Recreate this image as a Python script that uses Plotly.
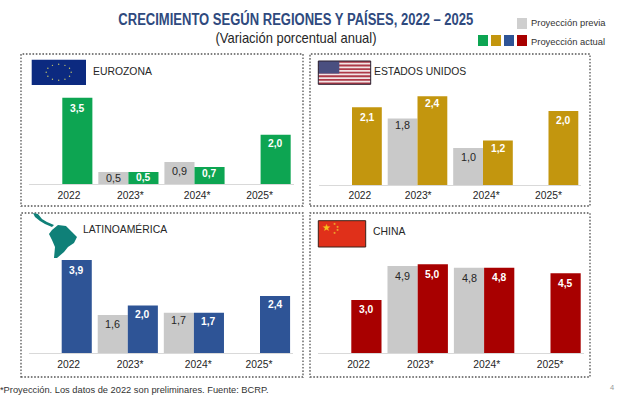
import math
import plotly.graph_objects as go

# ---- data ----
categories = ["2022", "2023*", "2024*", "2025*"]
eurozona_previa = [None, 0.5, 0.9, None]
eurozona_actual = [3.5, 0.5, 0.7, 2.0]
eeuu_previa = [None, 1.8, 1.0, None]
eeuu_actual = [2.1, 2.4, 1.2, 2.0]
latam_previa = [None, 1.6, 1.7, None]
latam_actual = [3.9, 2.0, 1.7, 2.4]
china_previa = [None, 4.9, 4.8, None]
china_actual = [3.0, 5.0, 4.8, 4.5]
main_title = "CRECIMIENTO SEGÚN REGIONES Y PAÍSES, 2022 – 2025"
sub_title = "(Variación porcentual anual)"

W, H = 620, 396
GRAY = "#C9C9C9"
SANS = "Liberation Sans"
px = lambda x: x / W
py = lambda y: 1 - y / H

panels = [
    dict(name="EUROZONA", prev=eurozona_previa, act=eurozona_actual, color="#0DA552",
         first=62.3, step=66.1, base=184.3, scale=24.75, box=(21, 54, 303, 206),
         label=(93, 71), tick_off=[0.10, 0.03, 0.04, -0.015],
         drop_prev=[0, 6, 9, 0], drop_act=[10.5, 6, 7, 9]),
    dict(name="ESTADOS UNIDOS", prev=eeuu_previa, act=eeuu_actual, color="#C3960E",
         first=352, step=65.5, base=185, scale=37, box=(310, 54, 590, 206),
         label=(373.7, 71.5), tick_off=[0.12, 0.01, 0.05, 0],
         drop_prev=[0, 7, 9, 0], drop_act=[10, 7, 8, 9]),
    dict(name="LATINOAMÉRICA", prev=latam_previa, act=latam_actual, color="#2E5496",
         first=61.7, step=66.1, base=353.3, scale=23.9, box=(21, 213, 303, 377),
         label=(83.3, 229), tick_off=[0.105, 0.035, 0.065, -0.015],
         drop_prev=[0, 9, 7, 0], drop_act=[10.5, 8.5, 8.5, 9]),
    dict(name="CHINA", prev=china_previa, act=china_actual, color="#A80000",
         first=351.3, step=66.4, base=353.3, scale=17.8, box=(310, 213, 590, 377),
         label=(373, 231), tick_off=[0.11, 0.04, 0.04, -0.005],
         drop_prev=[0, 10, 10, 0], drop_act=[10, 10.5, 10, 10]),
]

fig = go.Figure()
layout = dict(
    width=W, height=H, margin=dict(l=0, r=0, t=0, b=0, pad=0), autosize=False,
    paper_bgcolor="white", plot_bgcolor="rgba(0,0,0,0)", showlegend=False,
    barmode="group", bargap=0.09, bargroupgap=0,
    font=dict(family=SANS, color="#262626"),
)
shapes, annotations = [], []


def rect(x0, y0, x1, y1, fill, line=None, lw=0, dash=None):
    shapes.append(dict(type="rect", xref="paper", yref="paper",
                       x0=px(x0), x1=px(x1), y0=py(y1), y1=py(y0),
                       fillcolor=fill, layer="above",
                       line=dict(color=line or fill, width=lw, dash=dash or "solid")))


def text(x, y, s, size, color="#262626", anchor="left", weight="normal", family=SANS, width=None):
    annotations.append(dict(xref="paper", yref="paper", x=px(x), y=py(y), text=s,
                            showarrow=False, xanchor=anchor, yanchor="middle", width=width,
                            font=dict(size=size, color=color, family=family, weight=weight),
                            borderpad=0, borderwidth=0))


for i, p in enumerate(panels):
    suffix = "" if i == 0 else str(i + 1)
    xa, ya = "x" + suffix, "y" + suffix
    for vals, col, group in ((p["prev"], GRAY, "a"), (p["act"], p["color"], "b")):
        fig.add_trace(go.Bar(x=list(range(4)), y=vals, marker=dict(color=col, line=dict(width=0)),
                             offsetgroup=group, xaxis=xa, yaxis=ya,
                             hovertemplate="%{y:.1f}<extra></extra>"))
    x0 = p["first"] - p["step"] / 2
    x1 = x0 + 4 * p["step"]
    top = p["box"][1]
    layout["xaxis" + suffix] = dict(
        domain=[px(x0), px(x1)], range=[-0.5, 3.5], anchor=ya, showgrid=False, zeroline=False,
        showline=True, linecolor="#D9D9D9", linewidth=1, ticks="", ticklabelstandoff=1,
        tickmode="array", tickvals=[k + o for k, o in enumerate(p["tick_off"])], ticktext=categories,
        tickfont=dict(size=10.3, color="#262626", family=SANS),
    )
    layout["yaxis" + suffix] = dict(
        domain=[py(p["base"]), py(top)], range=[0, (p["base"] - top) / p["scale"]], anchor=xa,
        visible=False, fixedrange=True,
    )
    rect(*p["box"], "rgba(0,0,0,0)", line="#555555", lw=1.3, dash="1.6px,1.7px")
    text(p["label"][0], p["label"][1], p["name"], 10.4)
    for k in range(4):
        for vals, shift, drop, col in ((p["prev"], -15, p["drop_prev"], "#262626"),
                                       (p["act"], 15, p["drop_act"], "white")):
            if vals[k] is None:
                continue
            annotations.append(dict(
                xref=xa, yref=ya, x=k, y=vals[k], xshift=shift, yshift=-drop[k],
                text=f"{vals[k]:.1f}".replace(".", ","),
                showarrow=False, xanchor="center", yanchor="middle",
                font=dict(size=10.3 if col == "white" else 10.8, color=col, family=SANS,
                          weight="bold" if col == "white" else "normal")))

# ---- titles, legend, footer ----
text(295.5, 18.5, main_title, 15.6, "#2F4A7E", "center", "bold", width=356)
text(295.5, 38, sub_title, 14.2, "#262626", "center", width=162)
rect(517, 18, 527, 29, "#CFCFCF")
for x, c in zip((478, 491, 504, 517), ("#0DA552", "#C3960E", "#2E5496", "#A80000")):
    rect(x, 35, x + 10, 46, c)
text(531, 23, "Proyección previa", 9.4, "#333333")
text(531, 41, "Proyección actual", 9.4, "#333333")
text(0, 390, "*Proyección. Los datos de 2022 son preliminares. Fuente: BCRP.", 9.3, "#333333")
text(612, 387, "4", 7.5, "#999999", "center")

# ---- flags and map (decoration) ----
rect(31.7, 59.7, 86, 85, "#0C2A80")
for a in range(0, 360, 30):
    cx = 58.7 + 12.5 * math.cos(math.radians(a))
    cy = 72.3 + 8 * math.sin(math.radians(a))
    shapes.append(dict(type="circle", xref="paper", yref="paper", x0=px(cx - .7), x1=px(cx + .7),
                       y0=py(cy + .7), y1=py(cy - .7), fillcolor="#C8C86A", line=dict(width=0), layer="above"))

fx0, fy0, fx1, fy1 = 318.3, 61, 370.7, 84.3
h = (fy1 - fy0) / 13
rect(fx0, fy0, fx1, fy1, "#F2E6E6")
for s in range(0, 13, 2):
    rect(fx0, fy0 + s * h, fx1, fy0 + (s + 1) * h, "#AE3A48")
rect(fx0, fy0, 339.3, fy0 + 7 * h, "#4A4F80")
rect(fx0, fy0, fx1, fy1, "rgba(0,0,0,0)", line="#2A2030", lw=1)

rect(318.3, 220.7, 365.7, 247, "#E0301A", line="#3A2018", lw=1)
text(326, 227.5, "★", 10, "#F6C21C", "center", "normal", "DejaVu Sans")
for sx, sy in ((334, 223.5), (337, 226.5), (337, 230), (334, 233)):
    text(sx, sy, "★", 3.5, "#F0C030", "center", "normal", "DejaVu Sans")


def poly(points, color):
    d = "M " + " L ".join(f"{px(a):.5f},{py(b):.5f}" for a, b in points) + " Z"
    shapes.append(dict(type="path", xref="paper", yref="paper", path=d, fillcolor=color,
                       line=dict(width=0), layer="above"))


poly([(33, 213), (38, 214), (42, 219), (47, 222), (54, 225), (52, 227), (45, 224), (40, 221), (35, 217)], "#0F8078")
poly([(52, 230), (58, 225), (66, 226), (72, 232), (77, 237), (74, 243), (68, 247), (64, 252),
      (57, 258), (54, 258), (55, 247), (52, 240), (49, 234)], "#0F8078")

layout["shapes"] = shapes
layout["annotations"] = annotations
fig.update_layout(**layout)

# the reference's titles are set in a condensed face: fit the real text to its measured width
squeeze = """
document.body.style.margin='0';document.documentElement.style.overflow='hidden';
var fit={'%s':355,'%s':161};
document.querySelectorAll('.annotation-text').forEach(function(t){
  var w=fit[t.textContent];
  if(w){t.setAttribute('textLength',w);t.setAttribute('lengthAdjust','spacingAndGlyphs');}
});
""" % (main_title, sub_title)
fig.write_html("out.html", config=dict(displayModeBar=False), post_script=squeeze)
